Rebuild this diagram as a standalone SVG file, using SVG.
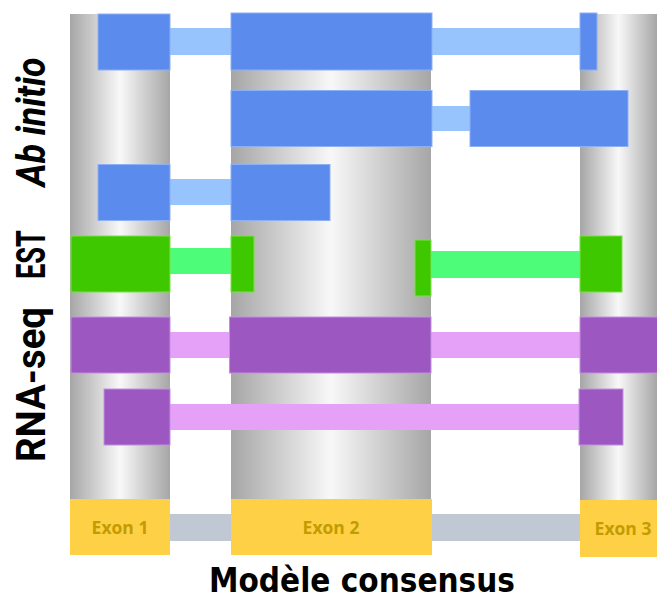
<svg xmlns="http://www.w3.org/2000/svg" width="657" height="599" viewBox="0 0 657 599">
<defs>
<linearGradient id="col" x1="0" y1="0" x2="1" y2="0">
<stop offset="0" stop-color="#a6a6a6"/>
<stop offset="0.5" stop-color="#f8f8f8"/>
<stop offset="1" stop-color="#a6a6a6"/>
</linearGradient>
</defs>
<style>
.col{fill:url(#col)}
.b{fill:#5b8bec;stroke:#8db0f5;stroke-width:1}
.bi{fill:#97c4fc}
.g{fill:#3ec800;stroke:#7ede4f;stroke-width:1}
.gi{fill:#4dfc78}
.p{fill:#9c57c0;stroke:#c28fe0;stroke-width:1}
.pi{fill:#e5a0f7}
.e{fill:#fed045}
.ei{fill:#c0c8d4}
.et{font-family:"Open Sans","Liberation Sans",Arial,sans-serif;font-weight:bold;font-size:17.5px;fill:#c29c00;text-anchor:middle}
.lab{font-family:Roboto,"Liberation Sans",sans-serif;font-weight:bold;font-size:40px;fill:#000;text-anchor:middle}
.title{font-family:"DejaVu Sans Condensed","DejaVu Sans",sans-serif;font-weight:bold;font-size:33px;fill:#000}
</style>
<rect width="657" height="599" fill="#fff"/>
<g id="columns">
<rect class="col" x="70" y="14" width="100" height="486"/>
<rect class="col" x="231" y="13" width="200" height="487"/>
<rect class="col" x="580" y="14" width="77" height="487"/>
</g>
<g id="connectors">
<rect class="bi" x="170" y="28" width="61" height="27"/>
<rect class="bi" x="432" y="28" width="148" height="27"/>
<rect class="bi" x="432" y="106" width="38" height="25"/>
<rect class="bi" x="170" y="179" width="61" height="26"/>
<rect class="gi" x="170" y="248" width="61" height="26"/>
<rect class="gi" x="431" y="251" width="149" height="27"/>
<rect class="pi" x="170" y="332" width="60" height="26"/>
<rect class="pi" x="431" y="332" width="149" height="26"/>
<rect class="pi" x="170" y="404" width="409" height="26"/>
<rect class="ei" x="170" y="514" width="61" height="27"/>
<rect class="ei" x="432" y="514" width="148" height="27"/>
</g>
<g id="abinitio1">
<rect class="b" x="98" y="14" width="72" height="56"/>
<rect class="b" x="231" y="13" width="201" height="57"/>
<rect class="b" x="580" y="13" width="17" height="57"/>
</g>
<g id="abinitio2">
<rect class="b" x="231" y="90.5" width="201" height="56"/>
<rect class="b" x="470" y="90.5" width="158" height="56"/>
</g>
<g id="abinitio3">
<rect class="b" x="98" y="164.5" width="72" height="56"/>
<rect class="b" x="231" y="164.5" width="99" height="56"/>
</g>
<g id="est">
<rect class="g" x="71" y="236" width="99" height="56"/>
<rect class="g" x="231" y="236" width="23" height="56"/>
<rect class="g" x="415" y="240" width="16" height="56"/>
<rect class="g" x="580" y="236" width="42" height="56"/>
</g>
<g id="rnaseq1">
<rect class="p" x="71" y="317" width="99" height="56"/>
<rect class="p" x="229.5" y="317" width="201.5" height="56"/>
<rect class="p" x="580" y="317" width="78" height="56"/>
</g>
<g id="rnaseq2">
<rect class="p" x="104" y="389" width="66" height="56"/>
<rect class="p" x="579" y="389" width="44" height="56"/>
</g>
<g id="consensus">
<rect class="e" x="70" y="499" width="100" height="56"/>
<rect class="e" x="231" y="499" width="201" height="56"/>
<rect class="e" x="580" y="500" width="77" height="57"/>
<text class="et" x="120" y="534">Exon 1</text>
<text class="et" x="331" y="534">Exon 2</text>
<text class="et" x="623" y="535">Exon 3</text>
</g>
<g id="labels">
<text class="lab" font-style="italic" transform="translate(45,122) rotate(-90)" textLength="129" lengthAdjust="spacingAndGlyphs">Ab initio</text>
<text class="lab" transform="translate(45,254.5) rotate(-90)" textLength="49" lengthAdjust="spacingAndGlyphs">EST</text>
<text class="lab" transform="translate(45,384.5) rotate(-90)" textLength="155" lengthAdjust="spacingAndGlyphs">RNA-seq</text>
<text class="title" x="209" y="592" textLength="306" lengthAdjust="spacingAndGlyphs">Modèle consensus</text>
</g>
</svg>
